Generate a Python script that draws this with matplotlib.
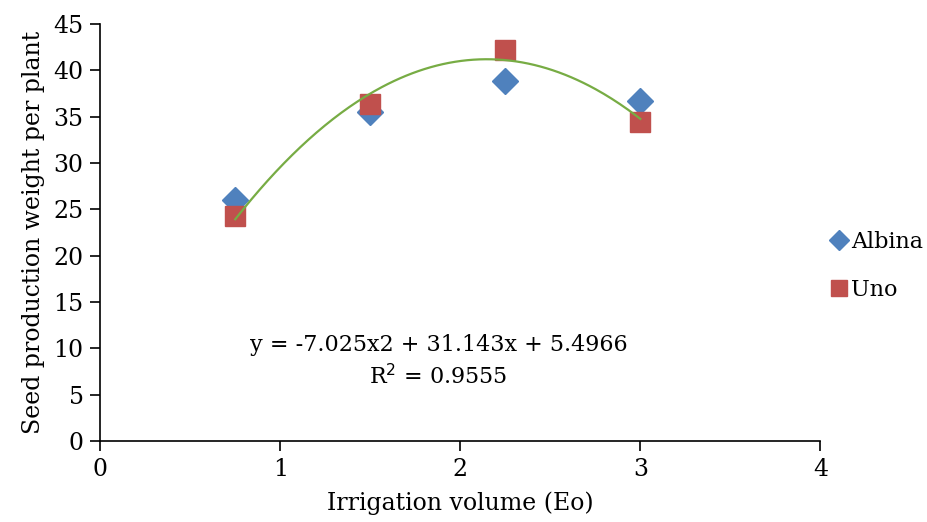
import numpy as np
import matplotlib.pyplot as plt

plt.rcParams['font.family'] = ['DejaVu Serif']

irrigation = [0.75, 1.5, 2.25, 3.0]
albina = [26.0, 35.5, 38.9, 36.7]
uno = [24.3, 36.4, 42.2, 34.4]
eq_text = "y = -7.025x2 + 31.143x + 5.4966\nR$^2$ = 0.9555"

fig = plt.figure(figsize=(9.28, 5.22), dpi=100)
ax = fig.add_axes([0.108, 0.155, 0.776, 0.799])

ax.plot(irrigation, albina, 'D', color='#4F81BD', markersize=13, label='Albina', zorder=2)
ax.plot(irrigation, uno, 's', color='#C0504D', markersize=15, label='Uno', zorder=2)

# quadratic trendline through Uno
coef = np.polyfit(irrigation, uno, 2)
xs = np.linspace(irrigation[0], irrigation[-1], 200)
ax.plot(xs, np.polyval(coef, xs), color='#77AC44', lw=1.6, zorder=3)

ax.text(1.88, 8.6, eq_text, ha='center', va='center', fontsize=16, linespacing=1.4)

ax.set_xlim(0, 4)
ax.set_ylim(0, 45)
ax.set_xticks(range(0, 5))
ax.set_yticks(range(0, 46, 5))
for s in ['top', 'right']:
    ax.spines[s].set_visible(False)
ax.tick_params(labelsize=17, length=7, width=1.2, direction='out', pad=5)
ax.spines['left'].set_linewidth(1.2)
ax.spines['bottom'].set_linewidth(1.2)
ax.set_xlabel("Irrigation volume (Eo)", fontsize=17, labelpad=8)
ax.set_ylabel("Seed production weight per plant", fontsize=17, labelpad=6)

ax.legend(loc='center left', bbox_to_anchor=(0.982, 0.42), frameon=False, fontsize=16,
          handletextpad=0.05, handlelength=1.0, labelspacing=1.15, markerscale=0.75)

fig.savefig('out.png', dpi=100)
